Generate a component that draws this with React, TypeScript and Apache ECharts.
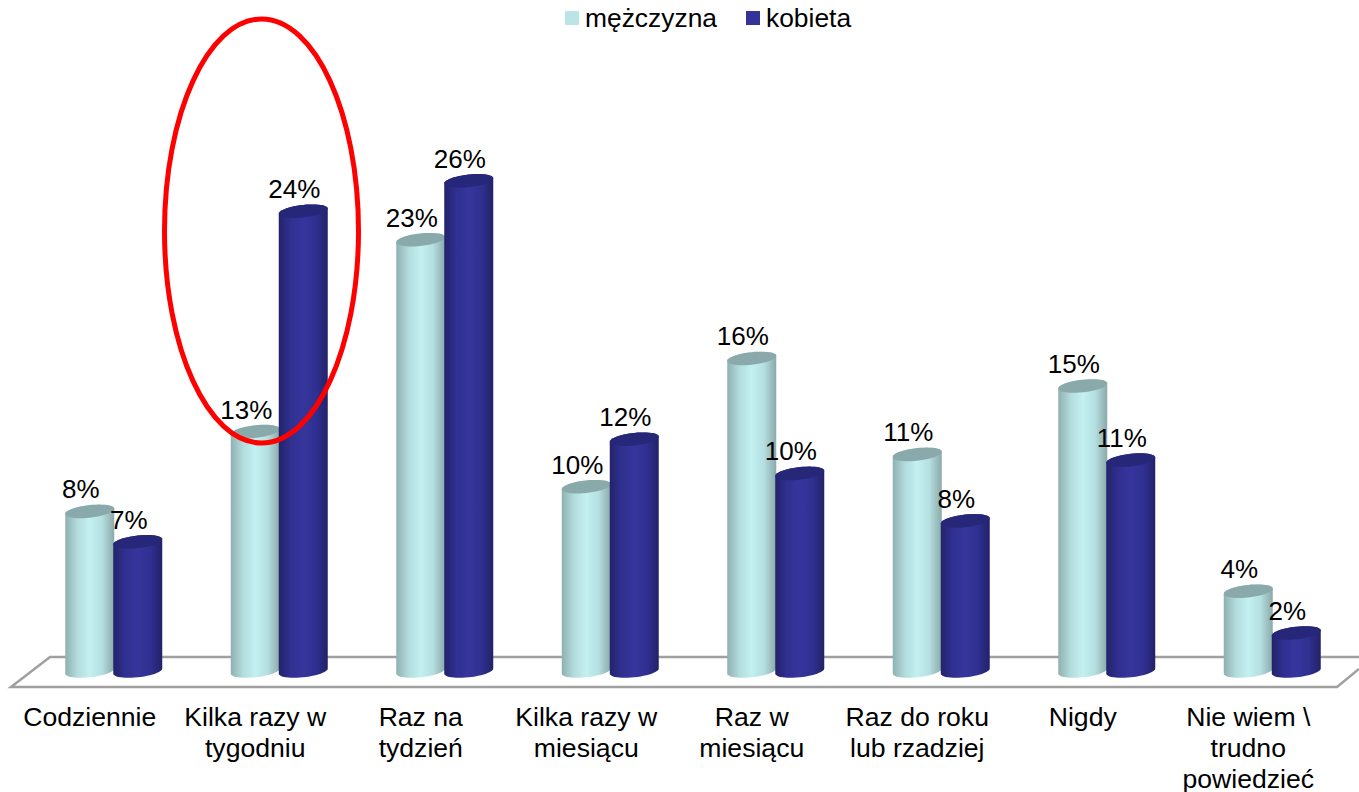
import React, { useEffect, useRef } from "react";
import * as echarts from "echarts";

const categories = [
  "Codziennie",
  "Kilka razy w\ntygodniu",
  "Raz na\ntydzień",
  "Kilka razy w\nmiesiącu",
  "Raz w\nmiesiącu",
  "Raz do roku\nlub rzadziej",
  "Nigdy",
  "Nie wiem \\\ntrudno\npowiedzieć",
];
const men = [8.4, 12.6, 22.7, 9.7, 16.45, 11.4, 15.0, 4.2];
const women = [6.8, 24.2, 25.8, 12.2, 10.4, 7.9, 11.1, 2.0];

const FONT = '"Liberation Sans", Arial, sans-serif';
const BAR_RX = 24.5;
const BAR_RY = 6.3;
const TILT = (-6 * Math.PI) / 180;

function ellipsePoint(cx: number, cy: number, t: number): number[] {
  const ex = BAR_RX * Math.cos(t);
  const ey = BAR_RY * Math.sin(t);
  return [cx + ex, cy + ey + ex * Math.tan(TILT)];
}

function cylinder(offset: number, stops: string[], topColor: string) {
  return (_params: any, api: any) => {
    const i = api.value(0);
    const v = api.value(1);
    const [cx, top] = api.coord([i, v]);
    const [, base] = api.coord([i, 0]);
    const x = cx + offset;
    const body: number[][] = [];
    const N = 24;
    for (let k = 0; k <= N; k++) body.push(ellipsePoint(x, top, Math.PI + (Math.PI * k) / N));
    for (let k = 0; k <= N; k++) body.push(ellipsePoint(x, base, (Math.PI * k) / N));
    const cap: number[][] = [];
    for (let k = 0; k < 2 * N; k++) cap.push(ellipsePoint(x, top, (Math.PI * k) / N));
    const fill = {
      type: "linear",
      x: 0,
      y: 0,
      x2: 1,
      y2: 0,
      colorStops: stops.map((color, n) => ({ offset: n / (stops.length - 1), color })),
    };
    return {
      type: "group",
      children: [
        { type: "polygon", shape: { points: body }, style: { fill } },
        { type: "polygon", shape: { points: cap }, style: { fill: topColor } },
        {
          type: "text",
          x: x - 9,
          y: top - 22,
          style: {
            text: Math.round(v) + "%",
            fontFamily: FONT,
            fontSize: 26,
            fill: "#000",
            textAlign: "center",
            textVerticalAlign: "middle",
            verticalAlign: "middle",
          },
        },
      ],
    };
  };
}

export default function App() {
  const ref = useRef<HTMLDivElement>(null);
  useEffect(() => {
    document.body.style.margin = "0";
    const chart = echarts.init(ref.current!, null, { renderer: "svg" });
    chart.setOption({
      animation: false,
      backgroundColor: "#fff",
      legend: {
        left: 565,
        top: 5,
        padding: 0,
        itemWidth: 14,
        itemHeight: 14,
        itemGap: 29,
        icon: "rect",
        data: ["mężczyzna", "kobieta"],
        textStyle: { fontFamily: FONT, fontSize: 26.4, color: "#000", padding: [0, 0, 2, 1] },
      },
      grid: { left: 7, width: 1324, top: 101, height: 570, outerBoundsMode: "none", containLabel: false },
      xAxis: {
        type: "category",
        data: categories,
        axisLine: { show: false },
        axisTick: { show: false },
        axisLabel: {
          interval: 0,
          margin: 30,
          color: "#000",
          fontFamily: FONT,
          fontSize: 26.6,
          lineHeight: 31,
          align: "center",
        },
      },
      yAxis: { type: "value", min: 0, max: 30, show: false },
      graphic: [
        {
          type: "polyline",
          z: -1,
          silent: true,
          shape: {
            points: [
              [1359, 657],
              [50, 657],
              [11, 687],
              [1337, 687],
              [1359, 669],
            ],
          },
          style: { stroke: "#a0a0a0", lineWidth: 2.5, fill: "none" },
        },
        {
          type: "ellipse",
          z: 100,
          silent: true,
          shape: { cx: 261.5, cy: 231, rx: 97, ry: 212 },
          style: { stroke: "#ff0000", lineWidth: 5, fill: "none" },
        },
      ],
      series: [
        {
          type: "custom",
          name: "mężczyzna",
          itemStyle: { color: "#b9e5e6" },
          encode: { x: 0, y: 1 },
          data: men.map((v, i) => [i, v]),
          clip: false,
          renderItem: cylinder(
            0,
            ["#8fb0b0", "#b3dcdd", "#c3f0f1", "#b5dfe0", "#8aa9aa"],
            "#8aa9aa"
          ),
        },
        {
          type: "custom",
          name: "kobieta",
          itemStyle: { color: "#333399" },
          encode: { x: 0, y: 1 },
          data: women.map((v, i) => [i, v]),
          clip: false,
          renderItem: cylinder(
            48,
            ["#23236b", "#303092", "#35359c", "#303092", "#222268"],
            "#27277a"
          ),
        },
      ],
    });
    return () => chart.dispose();
  }, []);
  return (
    <div
      ref={ref}
      style={{ position: "absolute", left: 0, top: 0, width: 1359, height: 792 }}
    />
  );
}
